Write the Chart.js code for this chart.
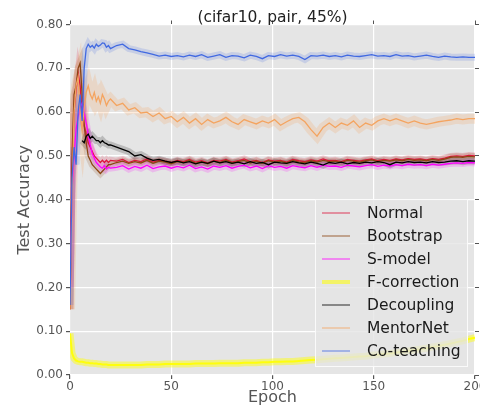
<!DOCTYPE html>
<html>
<head>
<meta charset="utf-8">
<script src="https://cdn.jsdelivr.net/npm/chart.js@4.4.1/dist/chart.umd.min.js"></script>
<style>
  body { margin: 0; background: #fff; }
  canvas { display: block; }
</style>
</head>
<body>
<canvas id="accChart" width="480" height="407"></canvas>
<script>
// epochs: every epoch up to 20, then every third epoch
const epochs = [0,1,2,3,4,5,6,7,8,9,10,11,12,13,14,15,16,17,18,19,20,
  23,26,29,32,35,38,41,44,47,50,53,56,59,62,65,68,71,74,77,80,
  83,86,89,92,95,98,101,104,107,110,113,116,119,122,125,128,131,134,137,140,
  143,146,149,152,155,158,161,164,167,170,173,176,179,182,185,188,191,194,197,200];

const normalAcc = [0.15,0.45,0.60,0.65,0.69,0.66,0.60,0.57,0.55,0.53,0.52,0.51,0.50,0.495,0.49,0.485,0.49,0.485,0.49,0.485,0.49,
  0.488,0.492,0.485,0.49,0.487,0.493,0.486,0.49,0.488,0.485,
  0.49,0.487,0.492,0.486,0.489,0.484,0.49,0.488,0.492,0.486,
  0.489,0.493,0.487,0.49,0.485,0.491,0.488,0.49,0.486,0.492,
  0.489,0.487,0.491,0.488,0.493,0.489,0.49,0.487,0.492,0.49,
  0.488,0.491,0.493,0.489,0.492,0.49,0.493,0.491,0.494,0.492,
  0.493,0.491,0.494,0.492,0.495,0.499,0.5,0.499,0.501,0.5];

const bootstrapAcc = [0.15,0.50,0.64,0.66,0.70,0.712,0.64,0.57,0.53,0.50,0.49,0.48,0.475,0.47,0.465,0.46,0.465,0.47,0.475,0.48,0.48,
  0.485,0.488,0.483,0.487,0.484,0.49,0.483,0.488,0.486,0.482,
  0.487,0.485,0.49,0.483,0.487,0.482,0.488,0.485,0.49,0.484,
  0.487,0.49,0.484,0.488,0.483,0.489,0.486,0.488,0.484,0.49,
  0.486,0.485,0.489,0.486,0.49,0.487,0.488,0.485,0.49,0.488,
  0.486,0.489,0.491,0.487,0.49,0.488,0.491,0.489,0.492,0.49,
  0.491,0.489,0.492,0.49,0.493,0.497,0.498,0.497,0.499,0.498];

const sModelAcc = [0.20,0.42,0.50,0.56,0.59,0.61,0.62,0.60,0.575,0.55,0.525,0.505,0.495,0.485,0.48,0.475,0.472,0.478,0.47,0.474,0.472,
  0.474,0.478,0.47,0.476,0.472,0.479,0.471,0.475,0.477,0.472,
  0.476,0.473,0.479,0.471,0.475,0.47,0.477,0.474,0.478,0.472,
  0.476,0.479,0.473,0.477,0.471,0.478,0.474,0.476,0.472,0.478,
  0.475,0.473,0.478,0.474,0.479,0.476,0.477,0.474,0.479,0.477,
  0.475,0.478,0.48,0.476,0.479,0.477,0.48,0.478,0.481,0.479,
  0.48,0.478,0.481,0.479,0.481,0.483,0.484,0.483,0.485,0.484];

const fCorrectionAcc = [0.095,0.05,0.038,0.033,0.031,0.03,0.03,0.029,0.028,0.028,0.027,0.027,0.026,0.026,0.025,0.025,0.024,0.024,0.024,0.023,0.023,
  0.023,0.023,0.023,0.023,0.023,0.024,0.024,0.024,0.025,0.025,
  0.025,0.025,0.025,0.026,0.026,0.026,0.026,0.027,0.027,0.027,
  0.027,0.028,0.028,0.028,0.029,0.029,0.03,0.03,0.031,0.031,
  0.032,0.033,0.034,0.035,0.036,0.037,0.038,0.039,0.04,0.041,
  0.042,0.043,0.045,0.046,0.048,0.049,0.051,0.053,0.055,0.057,
  0.059,0.061,0.064,0.066,0.069,0.072,0.075,0.078,0.082,0.085];

const decouplingAcc = [null,null,null,null,null,null,0.535,0.53,0.545,0.55,0.54,0.545,0.54,0.535,0.535,0.53,0.535,0.53,0.528,0.525,0.525,
  0.52,0.515,0.51,0.50,0.503,0.495,0.49,0.492,0.488,0.485,
  0.488,0.484,0.487,0.482,0.486,0.483,0.488,0.484,0.487,0.483,
  0.486,0.482,0.487,0.483,0.485,0.48,0.486,0.484,0.483,0.487,
  0.484,0.482,0.486,0.483,0.479,0.485,0.483,0.486,0.482,0.485,
  0.483,0.486,0.484,0.487,0.485,0.48,0.486,0.484,0.487,0.485,
  0.486,0.484,0.487,0.485,0.486,0.488,0.489,0.487,0.489,0.488];

const mentorNetAcc = [0.15,0.40,0.60,0.66,0.68,0.60,0.56,0.61,0.645,0.66,0.64,0.63,0.645,0.625,0.635,0.62,0.64,0.63,0.615,0.625,0.63,
  0.615,0.62,0.605,0.61,0.598,0.60,0.59,0.598,0.585,0.59,
  0.578,0.588,0.575,0.585,0.572,0.583,0.575,0.58,0.588,0.578,
  0.572,0.583,0.578,0.573,0.58,0.575,0.583,0.57,0.578,0.585,
  0.588,0.578,0.56,0.545,0.565,0.575,0.565,0.575,0.57,0.58,
  0.565,0.575,0.57,0.58,0.585,0.58,0.585,0.58,0.575,0.58,
  0.575,0.572,0.575,0.578,0.58,0.582,0.585,0.583,0.585,0.585];

const coTeachingAcc = [0.16,0.45,0.52,0.48,0.60,0.64,0.58,0.70,0.745,0.755,0.748,0.752,0.746,0.755,0.75,0.753,0.758,0.757,0.748,0.752,0.745,
  0.752,0.755,0.745,0.742,0.738,0.735,0.732,0.728,0.730,0.727,
  0.729,0.726,0.730,0.727,0.731,0.725,0.728,0.731,0.725,0.729,
  0.728,0.724,0.730,0.727,0.722,0.729,0.727,0.731,0.728,0.730,
  0.727,0.720,0.729,0.728,0.730,0.727,0.729,0.726,0.730,0.728,
  0.727,0.729,0.731,0.728,0.729,0.727,0.731,0.728,0.729,0.726,
  0.728,0.730,0.727,0.725,0.728,0.726,0.725,0.726,0.725,0.725];

const methods = [
  { label: 'Normal',       values: normalAcc,      color: '220,20,60' },
  { label: 'Bootstrap',    values: bootstrapAcc,   color: '139,69,19' },
  { label: 'S-model',      values: sModelAcc,      color: '255,0,255' },
  { label: 'F-correction', values: fCorrectionAcc, color: '255,255,0' },
  { label: 'Decoupling',   values: decouplingAcc,  color: '0,0,0' },
  { label: 'MentorNet',    values: mentorNetAcc,   color: '244,164,96' },
  { label: 'Co-teaching',  values: coTeachingAcc,  color: '65,105,225' }
];

const chartTitle = '(cifar10, pair, 45%)';
const yTicks = [0, 0.1, 0.2, 0.3, 0.4, 0.5, 0.6, 0.7, 0.8];
const xTicks = [0, 50, 100, 150, 200];

Chart.defaults.font.family = "'DejaVu Sans', sans-serif";

const toPoints = vals => vals.map((v, i) => ({ x: epochs[i], y: v }));

const datasets = [];
const n = methods.length;
methods.forEach((m, i) => {
  const isYellow = m.label === 'F-correction';
  const isMentor = m.label === 'MentorNet';
  // soft band under each curve
  datasets.push({
    label: m.label + ' band',
    data: toPoints(m.values),
    borderColor: `rgba(${m.color},${isYellow ? 0.45 : isMentor ? 0.22 : 0.18})`,
    borderWidth: isMentor ? 10 : 7,
    pointRadius: 0,
    tension: 0,
    order: 100 + (n - i)
  });
  datasets.push({
    label: m.label,
    data: toPoints(m.values),
    borderColor: `rgba(${m.color},${isYellow ? 0.9 : 1})`,
    borderWidth: isYellow ? 2 : 1.3,
    pointRadius: 0,
    tension: 0,
    order: n - i
  });
});

const plotBackground = {
  id: 'plotBackground',
  beforeDraw(chart) {
    const { ctx, chartArea: a } = chart;
    ctx.save();
    ctx.fillStyle = '#e5e5e5';
    ctx.fillRect(a.left, a.top, a.right - a.left, a.bottom - a.top);
    ctx.restore();
  }
};

// title centred over the plot area, as matplotlib does
const plotTitle = {
  id: 'plotTitle',
  afterDraw(chart) {
    const { ctx, chartArea: a } = chart;
    ctx.save();
    ctx.font = "15.5px 'DejaVu Sans', sans-serif";
    ctx.fillStyle = '#222';
    ctx.textAlign = 'center';
    ctx.textBaseline = 'middle';
    ctx.fillText(chartTitle, (a.left + a.right) / 2, 17.5);
    ctx.restore();
  }
};

const insideLegend = {
  id: 'insideLegend',
  afterDatasetsDraw(chart) {
    const { ctx, chartArea: a } = chart;
    const boxRight = a.right - 7, boxBottom = a.bottom - 8;
    const boxW = 153, boxH = 168;
    const left = boxRight - boxW, top = boxBottom - boxH;
    ctx.save();
    ctx.fillStyle = 'rgba(229,229,229,0.8)';
    ctx.fillRect(left, top, boxW, boxH);
    ctx.strokeStyle = 'rgba(255,255,255,0.8)';
    ctx.lineWidth = 1;
    ctx.strokeRect(left + 0.5, top + 0.5, boxW - 1, boxH - 1);
    ctx.font = "15.5px 'DejaVu Sans', sans-serif";
    ctx.textBaseline = 'middle';
    ctx.fillStyle = '#1a1a1a';
    methods.forEach((m, i) => {
      const y = top + 14 + i * 23;
      const isYellow = m.label === 'F-correction';
      ctx.strokeStyle = `rgba(${m.color},${isYellow ? 0.55 : 0.55})`;
      ctx.lineWidth = isYellow ? 4 : 1.5;
      ctx.beginPath();
      ctx.moveTo(left + 7, y);
      ctx.lineTo(left + 35, y);
      ctx.stroke();
      ctx.fillText(m.label, left + 52, y + 1);
    });
    ctx.restore();
  }
};

new Chart(document.getElementById('accChart'), {
  type: 'line',
  data: { datasets },
  options: {
    responsive: false,
    animation: false,
    layout: { padding: { top: 24.5, left: 0, right: 0, bottom: 0 } },
    plugins: {
      legend: { display: false },
      tooltip: { enabled: false },
      title: { display: false }
    },
    scales: {
      x: {
        type: 'linear',
        position: 'bottom',
        min: 0,
        max: 200,
        afterBuildTicks: s => { s.ticks = xTicks.map(v => ({ value: v })); },
        ticks: { color: '#555', font: { size: 12 }, padding: 1 },
        grid: { color: '#fff', lineWidth: 1.2, tickColor: '#555', tickLength: 4 },
        border: { display: false },
        title: { display: true, text: 'Epoch', color: '#555', font: { size: 16, lineHeight: 1 }, padding: { top: 0, bottom: 1 } },
        afterFit: s => { s.height = 32; s.paddingLeft = 0; s.paddingRight = 0; }
      },
      xTop: {
        type: 'linear',
        position: 'top',
        min: 0,
        max: 200,
        afterBuildTicks: s => { s.ticks = xTicks.map(v => ({ value: v })); },
        ticks: { display: false },
        grid: { drawOnChartArea: false, tickColor: '#555', tickLength: 4 },
        border: { display: false },
        afterFit: s => { s.height = 0; s.paddingLeft = 0; s.paddingRight = 0; }
      },
      y: {
        position: 'left',
        min: 0,
        max: 0.8,
        afterBuildTicks: s => { s.ticks = yTicks.map(v => ({ value: v })); },
        ticks: { color: '#555', font: { size: 12 }, padding: 3, callback: v => v.toFixed(2) },
        grid: { color: '#fff', lineWidth: 1.2, tickColor: '#555', tickLength: 4 },
        border: { display: false },
        title: { display: true, text: 'Test Accuracy', color: '#555', font: { size: 16, lineHeight: 1 }, padding: { top: 17, bottom: 0 } },
        afterFit: s => { s.width = 70; }
      },
      yRight: {
        position: 'right',
        min: 0,
        max: 0.8,
        afterBuildTicks: s => { s.ticks = yTicks.map(v => ({ value: v })); },
        ticks: { display: false },
        grid: { drawOnChartArea: false, tickColor: '#555', tickLength: 4 },
        border: { display: false },
        afterFit: s => { s.width = 5; }
      }
    }
  },
  plugins: [plotBackground, insideLegend, plotTitle]
});
</script>
</body>
</html>
